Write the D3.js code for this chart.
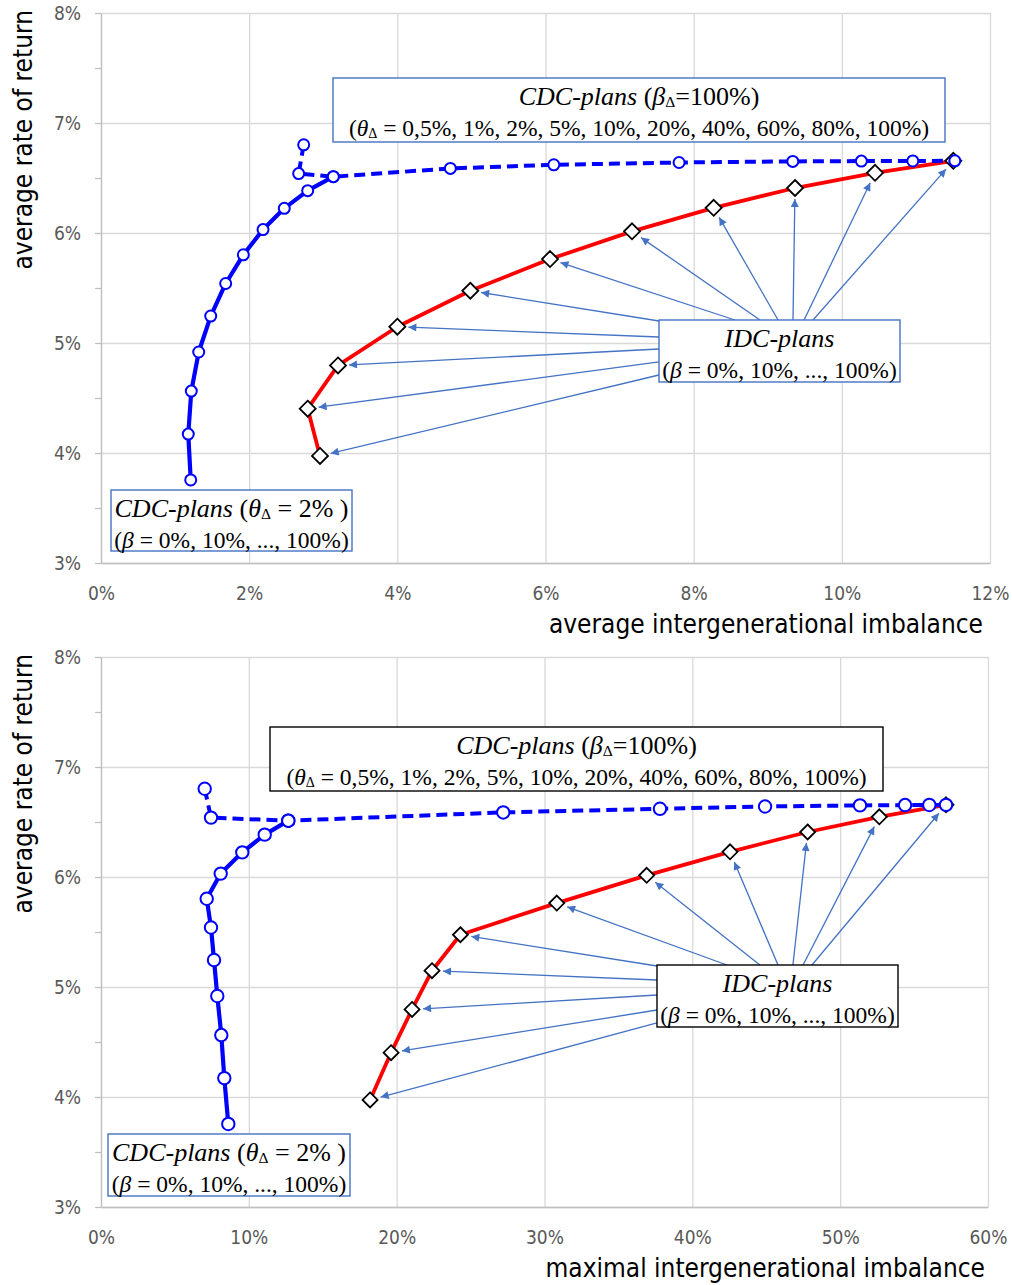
<!DOCTYPE html>
<html><head><meta charset="utf-8">
<script src="https://cdn.jsdelivr.net/npm/d3@7"></script>
<style>body{margin:0;background:#fff} svg{display:block}</style>
</head><body><svg id="c" width="1012" height="1285"></svg>
<script>
// ---------------- DATA ----------------
// CDC-plans, theta_Delta = 2%, beta = 0%,10%,...,100%
const betaLevels = ["0%","10%","20%","30%","40%","50%","60%","70%","80%","90%","100%"];
const rateCDCtheta2   = [3.755,4.172,4.563,4.918,5.245,5.541,5.802,6.031,6.224,6.385,6.512];
const avgImbCDCtheta2 = [1.211,1.178,1.219,1.319,1.481,1.683,1.921,2.187,2.474,2.790,3.136];
const maxImbCDCtheta2 = [8.611,8.341,8.138,7.867,7.644,7.441,7.150,8.097,9.558,11.073,12.670];

// CDC-plans, beta_Delta = 100%, theta_Delta = 0.5%,1%,2%,5%,10%,20%,40%,60%,80%,100%
const thetaLevels = ["0,5%","1%","2%","5%","10%","20%","40%","60%","80%","100%"];
const rateCDCbeta100   = [6.802,6.540,6.512,6.587,6.620,6.641,6.651,6.654,6.655,6.656];
const avgImbCDCbeta100 = [2.736,2.668,3.136,4.716,6.112,7.803,9.338,10.264,10.958,11.525];
const maxImbCDCbeta100 = [7.015,7.441,12.670,27.21,37.81,44.92,51.34,54.39,56.03,57.16];

// IDC-plans, beta = 0%,10%,...,100%
const rateIDC   = [3.973,4.403,4.796,5.148,5.475,5.763,6.015,6.229,6.409,6.547,6.656];
const avgImbIDC = [2.956,2.790,3.199,4.000,4.985,6.061,7.168,8.270,9.368,10.448,11.505];
const maxImbIDC = [18.20,19.62,21.04,22.39,24.31,30.83,36.91,42.55,47.80,52.65,57.16];

// axis ticks
const yTicks = [3,4,5,6,7,8];
const yMinorTicks = [3.5,4.5,5.5,6.5,7.5];
const xTicksAvg = [0,2,4,6,8,10,12];
const xTicksMax = [0,10,20,30,40,50,60];

// annotation texts
const boxCDCbeta = [
  [{t:"CDC-plans",it:1},{t:" ("},{t:"β",it:1},{t:"Δ",sub:1},{t:"=100%)"}],
  [{t:"("},{t:"θ",it:1},{t:"Δ",sub:1},{t:" = 0,5%, 1%, 2%, 5%, 10%, 20%, 40%, 60%, 80%, 100%)"}]
];
const boxIDC = [
  [{t:"IDC-plans",it:1}],
  [{t:"("},{t:"β",it:1},{t:" = 0%, 10%, ..., 100%)"}]
];
const boxCDCtheta = [
  [{t:"CDC-plans",it:1},{t:" ("},{t:"θ",it:1},{t:"Δ",sub:1},{t:" = 2% )"}],
  [{t:"("},{t:"β",it:1},{t:" = 0%, 10%, ..., 100%)"}]
];

// ---------------- DRAW ----------------
const svg = d3.select("#c");
svg.append("rect").attr("width",1012).attr("height",1285).attr("fill","#fff");
const defs = svg.append("defs");
defs.append("marker").attr("id","ah").attr("viewBox","0 0 10 10")
  .attr("refX",10).attr("refY",5).attr("markerWidth",11).attr("markerHeight",8)
  .attr("markerUnits","userSpaceOnUse").attr("orient","auto")
  .append("path").attr("d","M0,0 L10,5 L0,10 Z").attr("fill","#4472C4");

const tickFont = "'Liberation Sans Narrow','DejaVu Sans Condensed','Roboto',sans-serif";
const serif = "'Liberation Serif','DejaVu Serif',serif";

function drawChart(cfg){
  const g = svg.append("g");
  const x = d3.scaleLinear().domain(cfg.xDomain).range([cfg.left,cfg.right]);
  const y = d3.scaleLinear().domain([3,8]).range([cfg.bottom,cfg.top]);
  const w = cfg.right-cfg.left, h = cfg.bottom-cfg.top;

  // gridlines
  const gx = g.append("g").attr("transform",`translate(0,${cfg.bottom})`)
    .call(d3.axisBottom(x).tickValues(cfg.xTicks).tickSize(-h).tickFormat(""));
  gx.select(".domain").remove();
  gx.selectAll("line").attr("stroke","#d9d9d9").attr("stroke-width",1.3);
  const gy = g.append("g").attr("transform",`translate(${cfg.left},0)`)
    .call(d3.axisLeft(y).tickValues(yTicks).tickSize(-w).tickFormat(""));
  gy.select(".domain").remove();
  gy.selectAll("line").attr("stroke","#d9d9d9").attr("stroke-width",1.3);

  // x axis labels
  const ax = g.append("g").attr("transform",`translate(0,${cfg.bottom})`)
    .call(d3.axisBottom(x).tickValues(cfg.xTicks).tickSize(0).tickPadding(24).tickFormat(d=>d+"%"));
  ax.select(".domain").attr("stroke","#bfbfbf").attr("stroke-width",1.3);
  ax.selectAll("text").attr("font-family",tickFont).attr("font-size",19).attr("fill","#595959");

  // y axis
  const ay = g.append("g").attr("transform",`translate(${cfg.left},0)`)
    .call(d3.axisLeft(y).tickValues(yTicks).tickSizeInner(6).tickSizeOuter(0).tickPadding(14).tickFormat(d=>d+"%"));
  ay.select(".domain").attr("stroke","#bfbfbf").attr("stroke-width",1.3);
  ay.selectAll("line").attr("stroke","#bfbfbf").attr("stroke-width",1.3);
  ay.selectAll("text").attr("font-family",tickFont).attr("font-size",19).attr("fill","#595959");
  const aym = g.append("g").attr("transform",`translate(${cfg.left},0)`)
    .call(d3.axisLeft(y).tickValues(yMinorTicks).tickSize(6).tickFormat(""));
  aym.select(".domain").remove();
  aym.selectAll("line").attr("stroke","#bfbfbf").attr("stroke-width",1.3);

  // titles
  g.append("text").attr("x",cfg.xTitleX).attr("y",cfg.xTitleY).attr("text-anchor","end")
    .attr("font-family",tickFont).attr("font-size",26).attr("fill","#000").text(cfg.xTitle);
  g.append("text").attr("transform",`translate(32,${cfg.top-3}) rotate(-90)`).attr("text-anchor","end")
    .attr("font-family",tickFont).attr("font-size",26).attr("fill","#000").text("average rate of return");

  const line = d3.line().x(d=>x(d[0])).y(d=>y(d[1]));

  // IDC red line + diamonds
  const idc = cfg.idcX.map((v,i)=>[v,rateIDC[i]]);
  g.append("path").attr("d",line(idc)).attr("fill","none").attr("stroke","#ff0000").attr("stroke-width",3.8).attr("stroke-linejoin","round");
  const ds = cfg.diamond;
  g.selectAll(".dia").data(idc).join("path")
    .attr("d",d=>`M${x(d[0])},${y(d[1])-ds} L${x(d[0])+ds},${y(d[1])} L${x(d[0])},${y(d[1])+ds} L${x(d[0])-ds},${y(d[1])} Z`)
    .attr("fill","#fff").attr("stroke","#000").attr("stroke-width",1.8);

  // CDC theta=2% solid blue
  const cdcT = cfg.cdcTX.map((v,i)=>[v,rateCDCtheta2[i]]);
  g.append("path").attr("d",line(cdcT)).attr("fill","none").attr("stroke","#0000ff").attr("stroke-width",4.2).attr("stroke-linejoin","round");
  // CDC beta=100% dashed blue
  const cdcB = cfg.cdcBX.map((v,i)=>[v,rateCDCbeta100[i]]);
  g.append("path").attr("d",line(cdcB)).attr("fill","none").attr("stroke","#0000ff").attr("stroke-width",4)
    .attr("stroke-dasharray","11,6").attr("stroke-linejoin","round");
  g.selectAll(".c1").data(cdcT.concat(cdcB)).join("circle")
    .attr("cx",d=>x(d[0])).attr("cy",d=>y(d[1])).attr("r",cfg.r)
    .attr("fill","#fff").attr("stroke","#0000ff").attr("stroke-width",2);

  // arrows from IDC box to diamonds
  const b = cfg.idcBox;
  idc.forEach((d,i)=>{
    const a = cfg.arrowTails[i];
    const tx = a[0]==="L" ? b.x : b.x + a[1]*b.w;
    const ty = a[0]==="L" ? b.y + a[1]*b.h : b.y;
    const px = x(d[0]), py = y(d[1]);
    const dx = tx-px, dy = ty-py, L = Math.hypot(dx,dy);
    const ex = px + dx/L*11, ey = py + dy/L*11;
    g.append("line").attr("x1",tx).attr("y1",ty).attr("x2",ex).attr("y2",ey)
      .attr("stroke","#4472C4").attr("stroke-width",1.3).attr("marker-end","url(#ah)");
  });

  drawBox(g, cfg.betaBox, boxCDCbeta, cfg.betaBoxStroke);
  drawBox(g, cfg.idcBox, boxIDC, cfg.idcBoxStroke);
  drawBox(g, cfg.thetaBox, boxCDCtheta, "#4472C4");
}

function drawBox(g, b, lines, stroke){
  g.append("rect").attr("x",b.x).attr("y",b.y).attr("width",b.w).attr("height",b.h)
    .attr("fill","#fff").attr("stroke",stroke).attr("stroke-width",1.4);
  const sizes = [26, 23.5];
  lines.forEach((segs,li)=>{
    const fs = sizes[li];
    const t = g.append("text").attr("x",b.x+b.w/2).attr("y",b.y+(li===0?27:58))
      .attr("text-anchor","middle").attr("font-family",serif).attr("font-size",fs).attr("fill","#000");
    let shifted = false;
    segs.forEach(s=>{
      const sp = t.append("tspan").text(s.t);
      if(s.it) sp.attr("font-style","italic");
      if(s.sub){ sp.attr("font-size",fs*0.6).attr("dy",2); shifted = true; }
      else if(shifted){ sp.attr("dy",-2); shifted=false; }
    });
  });
}

drawChart({
  left:101, right:990, top:13, bottom:563, xDomain:[0,12], xTicks:xTicksAvg,
  xTitle:"average intergenerational imbalance", xTitleX:983, xTitleY:633,
  idcX:avgImbIDC, cdcTX:avgImbCDCtheta2, cdcBX:avgImbCDCbeta100,
  r:5.5, diamond:8,
  betaBox:{x:333,y:78,w:612,h:64}, betaBoxStroke:"#4472C4",
  idcBox:{x:659,y:320,w:241,h:62}, idcBoxStroke:"#4472C4",
  thetaBox:{x:111,y:490,w:241,h:61},
  arrowTails:[["L",0.887],["L",0.677],["L",0.468],["L",0.274],["L",0.016],
              ["T",0.315],["T",0.419],["T",0.494],["T",0.556],["T",0.602],["T",0.639]]
});
drawChart({
  left:101, right:988, top:657, bottom:1207, xDomain:[0,60], xTicks:xTicksMax,
  xTitle:"maximal intergenerational imbalance", xTitleX:985, xTitleY:1277,
  idcX:maxImbIDC, cdcTX:maxImbCDCtheta2, cdcBX:maxImbCDCbeta100,
  r:6.2, diamond:7.5,
  betaBox:{x:270,y:727,w:613,h:64}, betaBoxStroke:"#000",
  idcBox:{x:657,y:965,w:241,h:62}, idcBoxStroke:"#000",
  thetaBox:{x:108,y:1134,w:242,h:62},
  arrowTails:[["L",0.935],["L",0.726],["L",0.484],["L",0.242],["L",0.016],
              ["T",0.29],["T",0.427],["T",0.502],["T",0.564],["T",0.606],["T",0.643]]
});
</script>
</body></html>
